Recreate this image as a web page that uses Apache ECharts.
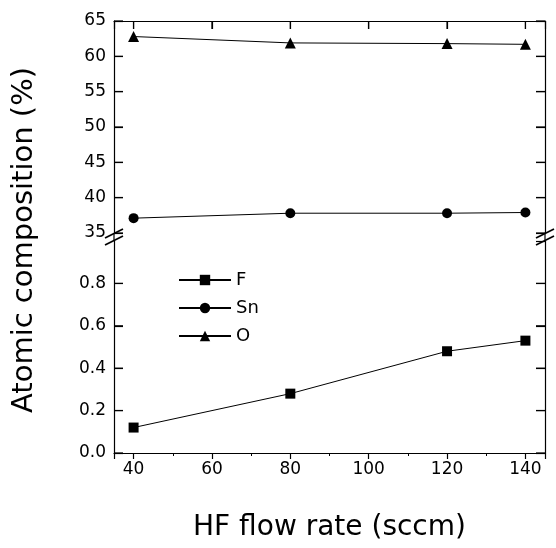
<!DOCTYPE html>
<html><head><meta charset="utf-8">
<script src="https://cdn.jsdelivr.net/npm/echarts@6/dist/echarts.min.js"></script>
<style>html,body{margin:0;padding:0;background:#fff}#c{width:556px;height:548px}</style>
</head><body><div id="c"></div>
<script>
// ---- data ----
const flowRates = [40, 80, 120, 140];
const oValues = [62.8, 61.9, 61.8, 61.7];
const snValues = [37.1, 37.8, 37.8, 37.9];
const fValues = [0.12, 0.28, 0.48, 0.53];
const xRange = [35, 145];
const upperRange = [35, 65];
const lowerRange = [0, 1.0];
const xTicks = [40, 60, 80, 100, 120, 140];
const upperTicks = [35, 40, 45, 50, 55, 60, 65];
const lowerTicks = [0.0, 0.2, 0.4, 0.6, 0.8];
const seriesNames = ['F', 'Sn', 'O'];
const xTitle = 'HF flow rate (sccm)';
const yTitle = 'Atomic composition (%)';

const FONT = 'DejaVu Sans';
const BLACK = '#000';
const pair = (xs, ys) => xs.map((x, i) => [x, ys[i]]);

const chart = echarts.init(document.getElementById('c'), null, {renderer: 'canvas'});
const axisLine = () => ({show: true, lineStyle: {color: BLACK, width: 1.2}});
const tickIn = (len) => ({show: true, inside: true, length: len, lineStyle: {color: BLACK, width: 1.2}});
const lbl = () => ({color: BLACK, fontFamily: FONT, fontSize: 17});
const noLbl = () => ({show: true, formatter: () => '', color: 'rgba(0,0,0,0)'});

const option = {
  backgroundColor: '#fff',
  animation: false,
  grid: [
    {left: 114, right: 10, top: 21, height: 212},
    {left: 114, right: 10, top: 241, height: 212}
  ],
  xAxis: [
    {type: 'value', gridIndex: 0, min: xRange[0], max: xRange[1], splitNumber: 5, position: 'top',
     axisLine: axisLine(), splitLine: {show: false},
     axisTick: tickIn(8), axisLabel: noLbl()},
    {type: 'value', gridIndex: 1, min: xRange[0], max: xRange[1], splitNumber: 5, position: 'bottom',
     axisLine: axisLine(), splitLine: {show: false},
     axisTick: {show: true, inside: false, length: 6, lineStyle: {color: BLACK, width: 1.2}},
     minorTick: {show: true, splitNumber: 2, length: 3, lineStyle: {color: BLACK, width: 1}},
     axisLabel: Object.assign({margin: 8, showMinLabel: false, showMaxLabel: false}, lbl()),
     name: xTitle, nameLocation: 'middle', nameGap: 61,
     nameTextStyle: {color: BLACK, fontFamily: FONT, fontSize: 28}}
  ],
  yAxis: [
    {type: 'value', gridIndex: 0, min: upperRange[0], max: upperRange[1], splitNumber: 6, position: 'left',
     axisLine: axisLine(), splitLine: {show: false}, axisTick: tickIn(9),
     axisLabel: Object.assign({margin: 8}, lbl())},
    {type: 'value', gridIndex: 0, min: upperRange[0], max: upperRange[1], splitNumber: 6, position: 'right',
     axisLine: axisLine(), splitLine: {show: false}, axisTick: tickIn(9),
     axisLabel: noLbl()},
    {type: 'value', gridIndex: 1, min: lowerRange[0], max: lowerRange[1], splitNumber: 5, position: 'left',
     axisLine: axisLine(), splitLine: {show: false}, axisTick: tickIn(9),
     axisLabel: Object.assign({margin: 8, showMaxLabel: false, formatter: v => v.toFixed(1)}, lbl())},
    {type: 'value', gridIndex: 1, min: lowerRange[0], max: lowerRange[1], splitNumber: 5, position: 'right',
     axisLine: axisLine(), splitLine: {show: false}, axisTick: tickIn(9),
     axisLabel: noLbl()}
  ],
  legend: {
    data: seriesNames, orient: 'vertical', left: 173, top: 266,
    itemWidth: 52, itemHeight: 13, itemGap: 10,
    textStyle: {color: BLACK, fontFamily: FONT, fontSize: 18, lineHeight: 18}
  },
  series: [
    {name: 'F', type: 'line', xAxisIndex: 1, yAxisIndex: 2, data: pair(flowRates, fValues),
     symbol: 'rect', symbolSize: 10,
     lineStyle: {color: BLACK, width: 1}, itemStyle: {color: BLACK}},
    {name: 'Sn', type: 'line', xAxisIndex: 0, yAxisIndex: 0, data: pair(flowRates, snValues),
     symbol: 'circle', symbolSize: 10,
     lineStyle: {color: BLACK, width: 1}, itemStyle: {color: BLACK}},
    {name: 'O', type: 'line', xAxisIndex: 0, yAxisIndex: 0, data: pair(flowRates, oValues),
     symbol: 'triangle', symbolSize: 11,
     lineStyle: {color: BLACK, width: 1}, itemStyle: {color: BLACK}}
  ]
};
chart.setOption(option);

// decorations: inward ticks, frame in the gap, break marks, y title (all positioned through the axes)
const xl = chart.convertToPixel({xAxisIndex: 0}, xRange[0]);
const xr = chart.convertToPixel({xAxisIndex: 0}, xRange[1]);
const yTop = chart.convertToPixel({yAxisIndex: 0}, upperRange[1]);
const yTopBottom = chart.convertToPixel({yAxisIndex: 0}, upperRange[0]);
const yBotTop = chart.convertToPixel({yAxisIndex: 2}, lowerRange[1]);
const yMid = (yTopBottom + yBotTop) / 2;
const yBotBottom = chart.convertToPixel({yAxisIndex: 2}, lowerRange[0]);
const tickStyle = {stroke: BLACK, lineWidth: 1.2};
const seg = (x1, y1, x2, y2, style) => ({type: 'line', silent: true, z: 100, shape: {x1, y1, x2, y2}, style: style || tickStyle});

const ticks = [];
upperTicks.forEach(v => {
  const y = chart.convertToPixel({yAxisIndex: 0}, v);
  ticks.push(seg(xl, y, xl + 9, y), seg(xr - 9, y, xr, y));
});
lowerTicks.forEach(v => {
  const y = chart.convertToPixel({yAxisIndex: 2}, v);
  ticks.push(seg(xl, y, xl + 9, y), seg(xr - 9, y, xr, y));
});
xTicks.forEach(v => {
  const x = chart.convertToPixel({xAxisIndex: 0}, v);
  ticks.push(seg(x, yTop, x, yTop + 8));
});

const slashStyle = {stroke: BLACK, lineWidth: 1.8};
function slashes(cx) {
  return [-3.5, 3.5].map(d => seg(cx - 9, yMid + d + 4.5, cx + 9, yMid + d - 4.5, slashStyle));
}
chart.setOption({graphic: ticks.concat([
  seg(xl, yTopBottom, xl, yBotTop),
  seg(xr, yTopBottom, xr, yBotTop)
], slashes(xl), slashes(xr), [
  {type: 'text', silent: true, x: 24, y: (yTop + yBotBottom) / 2 + 3, rotation: Math.PI / 2,
   style: {text: yTitle, fill: BLACK, font: '29px "DejaVu Sans"', textAlign: 'center', textVerticalAlign: 'middle'}}
])});
</script></body></html>
